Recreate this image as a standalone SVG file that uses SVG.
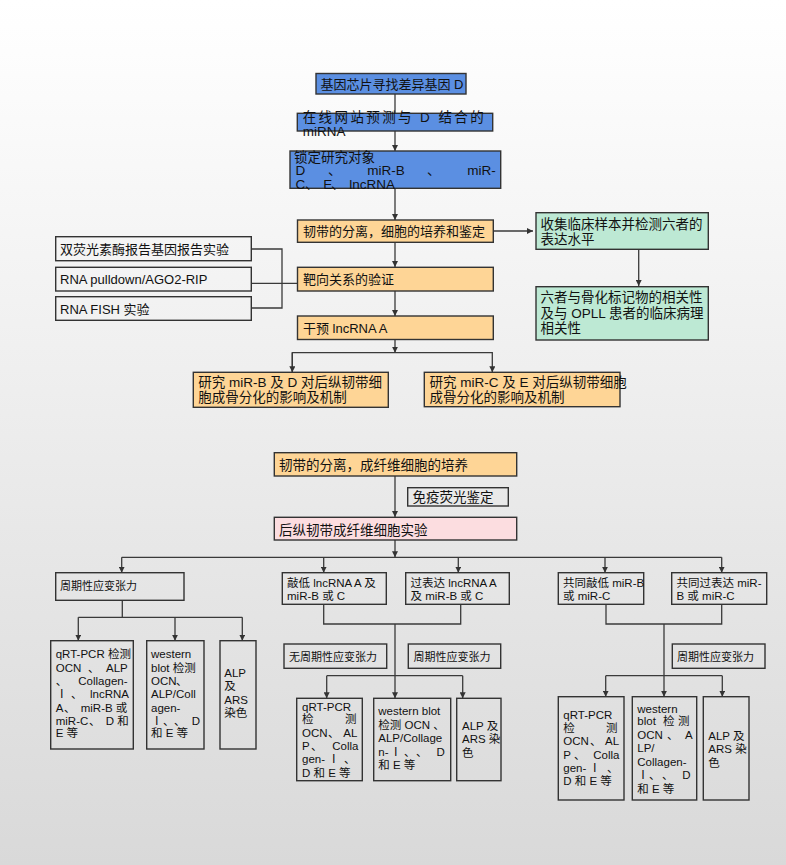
<svg xmlns="http://www.w3.org/2000/svg" width="786" height="865" viewBox="0 0 786 865">
<defs>
<linearGradient id="bg" x1="0" y1="0" x2="0" y2="1">
<stop offset="0" stop-color="#ffffff"/>
<stop offset="0.06" stop-color="#fdfdfd"/>
<stop offset="1" stop-color="#d9d9d9"/>
</linearGradient>
<marker id="arr" markerWidth="6" markerHeight="6" refX="6" refY="3" orient="auto" markerUnits="userSpaceOnUse">
<path d="M0,0 L6,3 L0,6 z" fill="#333"/>
</marker>
<style>
text { font-family: "Liberation Sans", "Noto Sans CJK SC", sans-serif; fill: #111; }
.t13 { font-size: 13px; }
.t135 { font-size: 13.5px; }
.t11 { font-size: 11px; }
.t115 { font-size: 11.5px; }
rect { stroke: #333; stroke-width: 1.4; }
.blue { fill: #5b8fe2; }
.org { fill: #fed596; }
.mint { fill: #bde9d4; }
.pink { fill: #fcdde0; }
.plain { fill: none; }
.c line, .c path { stroke: #3a3a3a; stroke-width: 1.3; fill: none; }
.a { marker-end: url(#arr); }
</style>
</defs>
<rect x="0" y="0" width="786" height="865" fill="url(#bg)" style="stroke:none"/>

<g id="connectors" class="c">
<line x1="395" y1="94" x2="395" y2="151" class="a"/>
<line x1="395" y1="188" x2="395" y2="220" class="a"/>
<line x1="395" y1="242" x2="395" y2="267" class="a"/>
<line x1="395" y1="291" x2="395" y2="316" class="a"/>
<line x1="493" y1="231" x2="533" y2="231" class="a"/>
<line x1="638.7" y1="249" x2="638.7" y2="286" class="a"/>
<path d="M251,249 H282 V308 H251"/>
<line x1="251" y1="283.3" x2="297" y2="283.3"/>
<line x1="395" y1="339" x2="395" y2="352.7" class="a"/>
<path d="M292.3,372.3 V352.7 H492.3 V372.3" style="marker-end:url(#arr)"/>
<line x1="292.3" y1="352.7" x2="292.3" y2="372.3" class="a"/>

<line x1="395" y1="476" x2="395" y2="517" class="a"/>
<line x1="395" y1="540" x2="395" y2="557.3" class="a"/>
<line x1="121.7" y1="557.3" x2="721.7" y2="557.3"/>
<line x1="121.7" y1="557.3" x2="121.7" y2="572.7" class="a"/>
<line x1="323.7" y1="557.3" x2="323.7" y2="572.7" class="a"/>
<line x1="458.3" y1="557.3" x2="458.3" y2="572.7" class="a"/>
<line x1="605" y1="557.3" x2="605" y2="572.7" class="a"/>
<line x1="721.7" y1="557.3" x2="721.7" y2="572.7" class="a"/>

<line x1="122.3" y1="600.3" x2="122.3" y2="617.3"/>
<line x1="78.3" y1="617.3" x2="242.3" y2="617.3"/>
<line x1="78.3" y1="617.3" x2="78.3" y2="640.7" class="a"/>
<line x1="175" y1="617.3" x2="175" y2="640.7" class="a"/>
<line x1="242.3" y1="617.3" x2="242.3" y2="640.7" class="a"/>

<path d="M323.7,604.3 V624 H460.7 V604.3"/>
<line x1="395" y1="624" x2="395" y2="698.3" class="a"/>
<line x1="326.7" y1="675.7" x2="462.7" y2="675.7"/>
<line x1="326.7" y1="675.7" x2="326.7" y2="698.3" class="a"/>
<line x1="462.7" y1="675.7" x2="462.7" y2="698.3" class="a"/>

<path d="M606,604.3 V624 H721.7 V604.3"/>
<line x1="664" y1="624" x2="664" y2="696.7" class="a"/>
<line x1="605.7" y1="675.7" x2="722.3" y2="675.7"/>
<line x1="605.7" y1="675.7" x2="605.7" y2="696.7" class="a"/>
<line x1="722.3" y1="675.7" x2="722.3" y2="696.7" class="a"/>
</g>

<g id="n1"><rect x="316" y="73.5" width="150" height="20.5" class="blue"/><text x="320.5" y="88.5" class="t13">基因芯片寻找差异基因 D</text></g>
<g id="n2"><rect x="297.3" y="113.3" width="195.4" height="17.7" class="blue"/><text x="302.7" y="122" class="t135" textLength="181" lengthAdjust="spacing">在线网站预测与 D 结合的</text><text x="302.7" y="136" class="t135">miRNA</text></g>
<g id="n3"><rect x="290" y="151" width="210.7" height="37.3" class="blue"/>
<text class="t135" y="161.5"><tspan x="294">锁定研究对象</tspan></text>
<text class="t135" y="175"><tspan x="295.5">D</tspan><tspan x="328">、</tspan><tspan x="367.3">miR-B</tspan><tspan x="427">、</tspan><tspan x="467.3">miR-</tspan></text>
<text class="t135" y="188.5"><tspan x="295.5">C</tspan><tspan x="305">、</tspan><tspan x="323.3">E</tspan><tspan x="331">、</tspan><tspan x="349.3">lncRNA</tspan></text>
</g>
<g id="n4"><rect x="297.5" y="220" width="195.8" height="22.3" class="org"/><text x="303" y="236" class="t13">韧带的分离，细胞的培养和鉴定</text></g>
<g id="n5"><rect x="297.5" y="267.3" width="195.8" height="23.7" class="org"/><text x="303" y="284" class="t13">靶向关系的验证</text></g>
<g id="n6"><rect x="297.5" y="316" width="195.8" height="23.5" class="org"/><text x="303" y="333" class="t13">干预 lncRNA A</text></g>
<g id="n7"><rect x="55.7" y="236.7" width="195.6" height="24" class="plain"/><text x="60" y="253.5" class="t13">双荧光素酶报告基因报告实验</text></g>
<g id="n8"><rect x="55.7" y="267.3" width="195.6" height="23.7" class="plain"/><text x="60" y="284" class="t13">RNA pulldown/AGO2-RIP</text></g>
<g id="n9"><rect x="55.7" y="296.7" width="195.6" height="23.6" class="plain"/><text x="60" y="313.5" class="t13">RNA FISH 实验</text></g>
<g id="n10"><rect x="536" y="212.7" width="172.3" height="36.6" class="mint"/><text x="540.5" y="228.5" class="t135">收集临床样本并检测六者的</text><text x="540.5" y="244" class="t135">表达水平</text></g>
<g id="n11"><rect x="536" y="286.7" width="172.3" height="53.3" class="mint"/><text x="540.5" y="302" class="t135">六者与骨化标记物的相关性</text><text x="540.5" y="317.5" class="t135">及与 OPLL 患者的临床病理</text><text x="540.5" y="333" class="t135">相关性</text></g>
<g id="n12"><rect x="193.3" y="372.3" width="195" height="35" class="org"/><text x="198.3" y="387" class="t135">研究 miR-B 及 D 对后纵韧带细</text><text x="198.3" y="402" class="t135">胞成骨分化的影响及机制</text></g>
<g id="n13"><rect x="424.3" y="372.3" width="195.7" height="34.4" class="org"/><text x="429.5" y="387" class="t135">研究 miR-C 及 E 对后纵韧带细胞</text><text x="429.5" y="402" class="t135">成骨分化的影响及机制</text></g>

<g id="n14"><rect x="274.3" y="452.7" width="242.4" height="23.3" class="org"/><text x="279" y="470" class="t135">韧带的分离，成纤维细胞的培养</text></g>
<g id="n15"><rect x="407.7" y="487.7" width="100.6" height="18.3" class="plain"/><text x="412.5" y="502" class="t135">免疫荧光鉴定</text></g>
<g id="n16"><rect x="274.3" y="517.3" width="242.4" height="22.7" class="pink"/><text x="279" y="534.5" class="t135">后纵韧带成纤维细胞实验</text></g>

<g id="n17"><rect x="55.7" y="572.7" width="128.3" height="27.6" class="plain"/><text x="60" y="590" class="t11">周期性应变张力</text></g>
<g id="n18"><rect x="282.3" y="572.7" width="104" height="31.6" class="plain"/><text x="287" y="587" class="t115">敲低 lncRNA A 及</text><text x="287" y="600" class="t115">miR-B 或 C</text></g>
<g id="n19"><rect x="405.7" y="572.7" width="103.6" height="31.6" class="plain"/><text x="410.5" y="587" class="t115">过表达 lncRNA A</text><text x="410.5" y="600" class="t115">及 miR-B 或 C</text></g>
<g id="n20"><rect x="558.3" y="572.7" width="85.4" height="31.6" class="plain"/><text x="563" y="587" class="t115">共同敲低 miR-B</text><text x="563" y="600" class="t115">或 miR-C</text></g>
<g id="n21"><rect x="671.7" y="572.7" width="95" height="31.6" class="plain"/><text x="676.5" y="587" class="t115">共同过表达 miR-</text><text x="676.5" y="600" class="t115">B 或 miR-C</text></g>

<g id="n22"><rect x="50.7" y="640.7" width="82.6" height="108.3" class="plain"/>
<text class="t115" x="55.7" y="658.3">qRT-PCR 检测</text>
<text class="t115" y="671.7"><tspan x="55.7">OCN</tspan><tspan x="88">、</tspan><tspan x="106">ALP</tspan></text>
<text class="t115" y="685"><tspan x="55.7">、</tspan><tspan x="78.3">Collagen-</tspan></text>
<text class="t115" y="698.3"><tspan x="56">Ⅰ</tspan><tspan x="71">、</tspan><tspan x="90">lncRNA</tspan></text>
<text class="t115" y="711.7"><tspan x="55.7">A</tspan><tspan x="64">、</tspan><tspan x="80.7">miR-B 或</tspan></text>
<text class="t115" y="725"><tspan x="55.7">miR-C</tspan><tspan x="89">、</tspan><tspan x="105.7">D 和</tspan></text>
<text class="t115" x="55.7" y="737.3">E 等</text>
</g>
<g id="n23"><rect x="146.7" y="640.7" width="57.3" height="108.3" class="plain"/>
<text class="t115" x="151" y="658.3">western</text>
<text class="t115" x="151" y="671.7">blot 检测</text>
<text class="t115" y="685"><tspan x="151">OCN</tspan><tspan x="176">、</tspan></text>
<text class="t115" x="151" y="698.3">ALP/Coll</text>
<text class="t115" x="151" y="711.7">agen-</text>
<text class="t115" y="725"><tspan x="151">Ⅰ</tspan><tspan x="163">、</tspan><tspan x="174">、</tspan><tspan x="191.7">D</tspan></text>
<text class="t115" x="151" y="737.3">和 E 等</text>
</g>
<g id="n24"><rect x="220" y="640.7" width="36" height="108.3" class="plain"/>
<text class="t115" x="224.3" y="676.7">ALP</text><text class="t115" x="224.3" y="690">及</text><text class="t115" x="224.3" y="704">ARS</text><text class="t115" x="224.3" y="717.3">染色</text>
</g>

<g id="n25"><rect x="284" y="644" width="102.7" height="24.3" class="plain"/><text x="289" y="660.5" class="t11">无周期性应变张力</text></g>
<g id="n26"><rect x="408.3" y="644" width="92.4" height="24.3" class="plain"/><text x="413.5" y="660.5" class="t11">周期性应变张力</text></g>
<g id="n27"><rect x="296.7" y="698.3" width="65.6" height="82.4" class="plain"/>
<text class="t115" x="302" y="710.7">qRT-PCR</text>
<text class="t115" y="723.3"><tspan x="302">检</tspan><tspan x="345">测</tspan></text>
<text class="t115" y="736.7"><tspan x="302">OCN</tspan><tspan x="328">、</tspan><tspan x="343.3">AL</tspan></text>
<text class="t115" y="750"><tspan x="302">P</tspan><tspan x="311">、</tspan><tspan x="332.3">Colla</tspan></text>
<text class="t115" y="763.3"><tspan x="302">gen-</tspan><tspan x="328">Ⅰ</tspan><tspan x="344">、</tspan></text>
<text class="t115" x="302" y="776.7">D 和 E 等</text>
</g>
<g id="n28"><rect x="373.7" y="698.3" width="77" height="82.4" class="plain"/>
<text class="t115" x="378.3" y="715">western blot</text>
<text class="t115" x="378.3" y="729">检测 OCN 、</text>
<text class="t115" x="378.3" y="742.3">ALP/Collage</text>
<text class="t115" y="755.7"><tspan x="378.3">n-</tspan><tspan x="390">Ⅰ</tspan><tspan x="404">、</tspan><tspan x="416">、</tspan><tspan x="436.5">D</tspan></text>
<text class="t115" x="378.3" y="769">和 E 等</text>
</g>
<g id="n29"><rect x="456.7" y="698.3" width="44.3" height="82.4" class="plain"/>
<text class="t115" x="462" y="730">ALP 及</text><text class="t115" x="462" y="743.3">ARS 染</text><text class="t115" x="462" y="756.7">色</text>
</g>

<g id="n30"><rect x="672.3" y="644" width="92.7" height="24.3" class="plain"/><text x="677" y="660.5" class="t11">周期性应变张力</text></g>
<g id="n31"><rect x="558.3" y="696.7" width="65.7" height="103.3" class="plain"/>
<text class="t115" x="563.3" y="719.3">qRT-PCR</text>
<text class="t115" y="732"><tspan x="563.3">检</tspan><tspan x="606">测</tspan></text>
<text class="t115" y="745.3"><tspan x="563.3">OCN</tspan><tspan x="590">、</tspan><tspan x="605">AL</tspan></text>
<text class="t115" y="758.7"><tspan x="563.3">P</tspan><tspan x="574">、</tspan><tspan x="593.3">Colla</tspan></text>
<text class="t115" y="772"><tspan x="563.3">gen-</tspan><tspan x="589">Ⅰ</tspan><tspan x="607">、</tspan></text>
<text class="t115" x="563.3" y="785">D 和 E 等</text>
</g>
<g id="n32"><rect x="632.3" y="696.7" width="64.4" height="103.3" class="plain"/>
<text class="t115" x="637.3" y="712.7">western</text>
<text class="t115" y="725"><tspan x="637.3">blot</tspan><tspan x="663">检</tspan><tspan x="678">测</tspan></text>
<text class="t115" y="739.3"><tspan x="637.3">OCN</tspan><tspan x="667">、</tspan><tspan x="685">A</tspan></text>
<text class="t115" x="637.3" y="752.3">LP/</text>
<text class="t115" x="637.3" y="766">Collagen-</text>
<text class="t115" y="779.3"><tspan x="637.3">Ⅰ</tspan><tspan x="649">、</tspan><tspan x="662">、</tspan><tspan x="682.3">D</tspan></text>
<text class="t115" x="637.3" y="792.7">和 E 等</text>
</g>
<g id="n33"><rect x="703.3" y="696.7" width="45.7" height="103.3" class="plain"/>
<text class="t115" x="708.3" y="740">ALP 及</text><text class="t115" x="708.3" y="752.7">ARS 染</text><text class="t115" x="708.3" y="766.7">色</text>
</g>
</svg>
